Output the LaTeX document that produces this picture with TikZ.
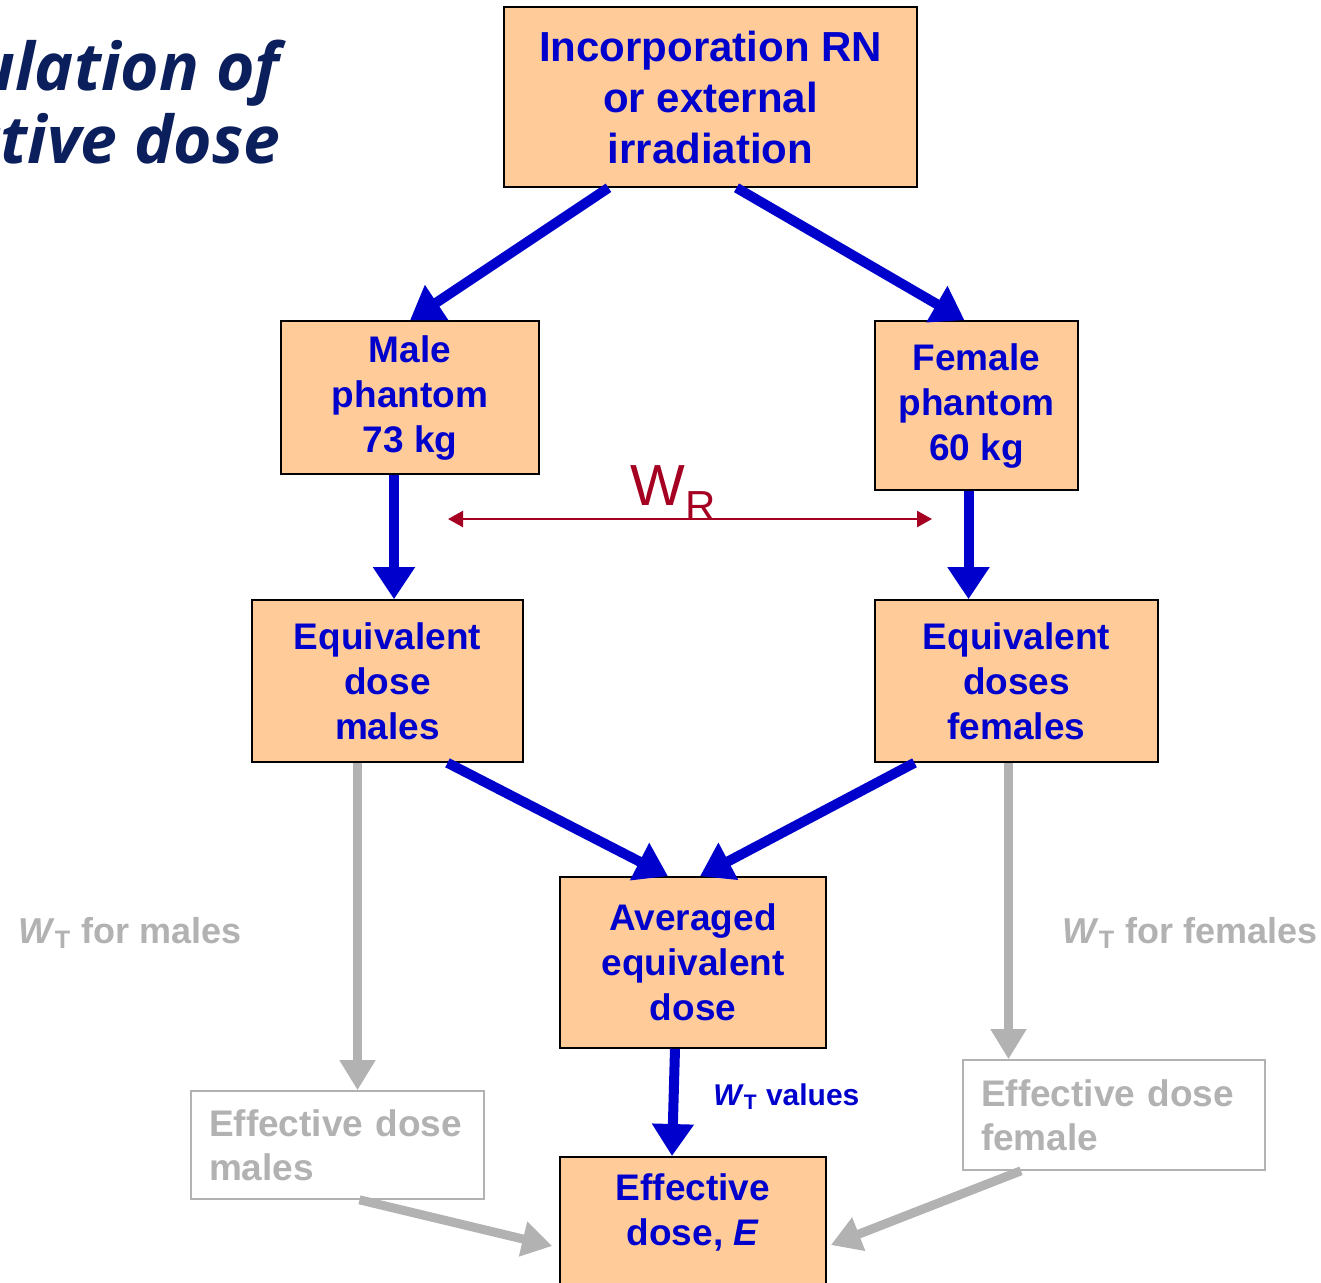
\documentclass[tikz,border=0pt]{standalone}
\usepackage{fontspec}
\setmainfont{Liberation Sans}
\newfontfamily\titlefont{Open Sans}
\usetikzlibrary{arrows.meta}
\definecolor{peach}{HTML}{FFCC99}
\definecolor{deep-blue}{HTML}{0000CC}
\definecolor{pale-grey}{HTML}{B2B2B2}
\definecolor{carmine}{HTML}{A50021}
\definecolor{navy-title}{HTML}{0B1F5C}
\newcommand{\wsub}[1]{\textit{W}\textsubscript{#1}}

\begin{document}
\begin{tikzpicture}[x=0.5pt, y=-0.5pt,
    box/.style={draw=black, line width=0.8pt, fill=peach, text=deep-blue, align=center, inner sep=0pt,
      font=\bfseries\fontsize{18.5}{22.5}\selectfont},
    greybox/.style={draw=pale-grey, line width=0.8pt, fill=white, text=pale-grey, align=left,
      inner xsep=9pt, inner ysep=0pt, font=\bfseries\fontsize{18.5}{22}\selectfont},
    blue arrow/.style={draw=deep-blue, line width=5pt, -{Triangle[width=20pt,length=16pt]}},
    grey arrow/.style={draw=pale-grey, line width=4.5pt, -{Triangle[width=17pt,length=15pt]}},
    wr arrow/.style={draw=carmine, line width=1.2pt,
      {Triangle[width=8pt,length=7.5pt]}-{Triangle[width=8pt,length=7.5pt]}}]
    \useasboundingbox (0,0) rectangle (1321,1282);
    \node[font=\titlefont\bfseries\itshape\fontsize{33}{33}\selectfont, text=navy-title, anchor=base east, inner sep=0pt] (title1) at (280,90) {Calculation of};
    \node[font=\titlefont\bfseries\itshape\fontsize{33}{33}\selectfont, text=navy-title, anchor=base east, inner sep=0pt] (title2) at (281,163) {effective dose};
    \node[box, minimum width=206.5pt, minimum height=90pt, font=\bfseries\fontsize{21}{25.5}\selectfont] (source) at (710.5,97) {Incorporation RN\\or external\\irradiation};
    \node[box, minimum width=129pt, minimum height=76.5pt] (male) at (410,397.5) {Male\\phantom\\73 kg};
    \node[box, minimum width=101.5pt, minimum height=84.5pt] (female) at (976.5,405.5) {Female\\phantom\\60 kg};
    \node[box, minimum width=135.5pt, minimum height=81pt] (eqmale) at (387.5,681) {Equivalent\\dose\\males};
    \node[box, minimum width=141.5pt, minimum height=81pt] (eqfemale) at (1016.5,681) {Equivalent\\doses\\females};
    \node[box, minimum width=133pt, minimum height=85.5pt] (avg) at (693,962.5) {Averaged\\equivalent\\dose};
    \node[box, minimum width=133pt, minimum height=70pt, anchor=north] (eff) at (693,1156) {};
    \node[align=center, inner sep=0pt, text=deep-blue, font=\bfseries\fontsize{18.5}{22.5}\selectfont] (efflabel) at (693,1212) {Effective\\dose, \textit{E}};
    \node[greybox, text width=128.5pt, minimum height=54pt] (effmale) at (337.5,1145) {Effective dose\\males};
    \node[greybox, text width=133pt, minimum height=55pt] (efffemale) at (1114,1115) {Effective dose\\female};
    \node[anchor=base west, inner sep=0pt, text=carmine, font=\fontsize{29}{29}\selectfont] (wr) at (630,505) {W\raisebox{-7.5pt}{\fontsize{21}{21}\selectfont R}};
    \coordinate (wrleft) at (448,519);
    \coordinate (wrright) at (932,519);
    \node[anchor=base west, inner sep=0pt, text=pale-grey, font=\bfseries\fontsize{18}{18}\selectfont] (wtmale) at (18,943) {\wsub{T} for males};
    \node[anchor=base west, inner sep=0pt, text=pale-grey, font=\bfseries\fontsize{18}{18}\selectfont] (wtfemale) at (1062,943) {\wsub{T} for females};
    \node[anchor=base west, inner sep=0pt, text=deep-blue, font=\bfseries\fontsize{15}{15}\selectfont] (wtvalues) at (713,1105) {\wsub{T} values};
    \draw[wr arrow] (wrleft) -- (wrright);
    \draw[blue arrow] ([xshift=-51pt]source.south) -- (male.north);
    \draw[blue arrow] ([xshift=13pt]source.south) -- ([xshift=-6pt]female.north);
    \draw[blue arrow] ([xshift=-8pt]male.south) -- ([xshift=-8pt]male.south |- eqmale.north);
    \draw[blue arrow] ([xshift=-4pt]female.south) -- ([xshift=-4pt]female.south |- eqfemale.north);
    \draw[blue arrow] ([xshift=30pt]eqmale.south) -- ([xshift=-12.5pt]avg.north);
    \draw[blue arrow] ([xshift=-51pt]eqfemale.south) -- ([xshift=3.5pt]avg.north);
    \draw[blue arrow] ([xshift=-9pt]avg.south) -- ([xshift=-10.5pt]eff.north);
    \draw[grey arrow] ([xshift=-15pt]eqmale.south) -- ([xshift=-15pt]eqmale.south |- effmale.north);
    \draw[grey arrow] ([xshift=-4pt]eqfemale.south) -- ([xshift=-4pt]eqfemale.south |- efffemale.north);
    \draw[grey arrow] ([xshift=11pt]effmale.south) -- ([shift={(-3.5pt,-45pt)}]eff.north west);
    \draw[grey arrow] ([xshift=-46.5pt]efffemale.south) -- ([shift={(2pt,-44.5pt)}]eff.north east);
  \end{tikzpicture}
\end{document}
